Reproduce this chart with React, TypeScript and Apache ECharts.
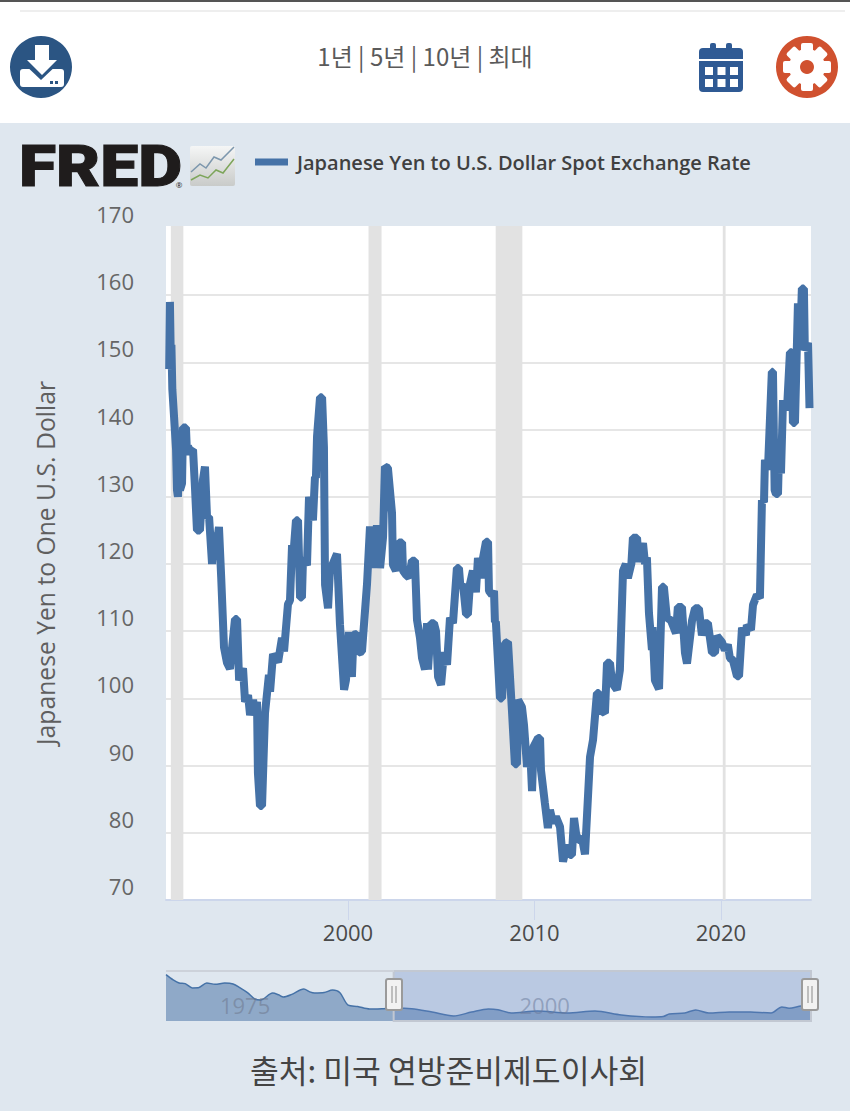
import React, { useEffect, useRef } from "react";
import * as echarts from "echarts";

const seriesName = "Japanese Yen to U.S. Dollar Spot Exchange Rate";
const yAxisTitle = "Japanese Yen to One U.S. Dollar";
const sourceText = "출처: 미국 연방준비제도이사회";
const rangeText = "1년 | 5년 | 10년 | 최대";
const yGridValues = [70, 80, 90, 100, 110, 120, 130, 140, 150, 160];
const yLabelValues = [70, 80, 90, 100, 110, 120, 130, 140, 150, 160, 170];
const xLabelValues = [2000, 2010, 2020];
const navLabelValues = [1975, 2000];
const recessions = [
  [1990.5, 1991.17],
  [2001.1, 2001.8],
  [2007.92, 2009.35],
  [2020.1, 2020.25],
];
const selectedRange = [1990.0, 2024.83];

const yen1990s = [
  [1990.41, 149], [1990.45, 159], [1990.49, 152], [1990.53, 152.6], [1990.58, 146], [1990.67, 142],
  [1990.78, 137], [1990.83, 131], [1990.88, 130], [1990.94, 136], [1990.99, 131], [1991.1, 132],
  [1991.15, 140.3], [1991.31, 140.3], [1991.37, 136.2], [1991.42, 137.5], [1991.53, 136.8], [1991.69, 137],
  [1991.8, 131], [1991.9, 125], [1992.06, 125], [1992.22, 132.5], [1992.33, 134.5], [1992.44, 127],
  [1992.55, 127], [1992.71, 120], [1992.82, 124.7], [1992.92, 122], [1993.08, 125.5], [1993.2, 118],
  [1993.35, 107.6], [1993.51, 105.3], [1993.67, 104.4], [1993.94, 111.8], [1994.05, 111.8], [1994.16, 102.7],
  [1994.37, 104.5], [1994.48, 99.5], [1994.64, 100.5], [1994.75, 97.5], [1994.91, 99.8], [1995.01, 97.5],
  [1995.12, 99.5], [1995.17, 88.9], [1995.28, 84], [1995.39, 84], [1995.55, 97.8], [1995.76, 103.5],
  [1995.82, 101], [1995.98, 106.6], [1996.25, 105.4], [1996.46, 109], [1996.57, 107], [1996.78, 114],
  [1996.89, 114.6], [1997, 122.8], [1997.05, 120.6], [1997.21, 126.5], [1997.32, 126.5], [1997.43, 115],
  [1997.53, 115], [1997.59, 121], [1997.8, 119.8], [1997.91, 130], [1998.12, 126.5], [1998.23, 133],
  [1998.28, 132.8], [1998.34, 139], [1998.5, 144.8], [1998.61, 144.8], [1998.71, 137.4], [1998.77, 116.9],
  [1998.93, 113.4], [1999.03, 119], [1999.41, 121.5], [1999.57, 111], [1999.79, 101.3], [1999.89, 102.7],
];
const yen2000s = [
  [2000.05, 109.9], [2000.21, 103.2], [2000.3, 109.5], [2000.48, 109.6], [2000.54, 106.8], [2000.75, 107],
  [2001.02, 117], [2001.18, 125.6], [2001.29, 119.4], [2001.34, 125.4], [2001.5, 119.6], [2001.55, 125.8],
  [2001.72, 119.4], [2001.88, 124], [2001.98, 134.5], [2002.14, 134.3], [2002.36, 127.6], [2002.41, 119.9],
  [2002.57, 119], [2002.73, 123.2], [2002.9, 123.2], [2002.95, 119], [2003.11, 118.4], [2003.27, 118],
  [2003.43, 120.5], [2003.59, 120.5], [2003.7, 111.7], [2003.86, 109], [2003.97, 106], [2004.13, 104.3],
  [2004.24, 111.2], [2004.29, 104.3], [2004.45, 111.2], [2004.61, 111.2], [2004.72, 110], [2004.83, 103.2],
  [2004.99, 102], [2005.15, 106.9], [2005.31, 105], [2005.47, 112], [2005.63, 111.2], [2005.84, 119.4],
  [2005.95, 119.4], [2006.03, 116.6], [2006.17, 117], [2006.33, 112.5], [2006.43, 112.5], [2006.54, 117],
  [2006.7, 119], [2006.86, 115.8], [2006.97, 120.9], [2007.13, 117.9], [2007.24, 120.9], [2007.4, 123.3],
  [2007.51, 123.3], [2007.56, 116], [2007.72, 115.4], [2007.83, 116], [2007.88, 111.4], [2007.93, 111.4],
  [2008.15, 100], [2008.26, 100], [2008.42, 108.2], [2008.58, 108.4], [2008.79, 98.3], [2008.95, 90.2],
  [2009.06, 90.2], [2009.12, 99.8], [2009.33, 98.7], [2009.44, 96], [2009.6, 89.8], [2009.76, 92.8],
  [2009.87, 86.2], [2009.95, 92.8],
];
const yen2010s = [
  [2010.19, 94.1], [2010.3, 94.1], [2010.35, 89.3], [2010.56, 84.4], [2010.72, 80.7], [2010.83, 83.4],
  [2010.99, 81.5], [2011.15, 82.4], [2011.37, 80.9], [2011.53, 75.7], [2011.74, 78.2], [2011.9, 76.7],
  [2012.01, 76.7], [2012.12, 82.2], [2012.28, 78.9], [2012.55, 79.2], [2012.71, 76.8], [2012.98, 91.3],
  [2013.14, 93.8], [2013.35, 100.8], [2013.46, 100.8], [2013.51, 98.3], [2013.78, 97.8], [2013.89, 105.3],
  [2014.05, 105.3], [2014.16, 102.3], [2014.42, 101.3], [2014.58, 104.2], [2014.75, 119], [2014.9, 120],
  [2015.01, 117.9], [2015.2, 120.1], [2015.28, 123.9], [2015.5, 123.9], [2015.6, 120.3], [2015.82, 123.1],
  [2015.93, 120], [2016.03, 121], [2016.14, 112.7], [2016.3, 107.2], [2016.33, 110.6], [2016.46, 102.7],
  [2016.68, 101.4], [2016.84, 116.6], [2016.94, 116.6], [2017.1, 112], [2017.32, 111.6], [2017.59, 109.7],
  [2017.69, 113.6], [2017.91, 113.6], [2018.07, 106.8], [2018.18, 105.2], [2018.45, 111.6], [2018.61, 113.4],
  [2018.82, 113.4], [2018.98, 109.4], [2019.14, 111.2], [2019.3, 111.2], [2019.52, 106.8], [2019.68, 106.8],
  [2019.79, 109.3],
];
const yen2020s = [
  [2020.05, 108.4], [2020.21, 107.2], [2020.37, 108], [2020.48, 106], [2020.64, 105.7], [2020.86, 103.3],
  [2020.97, 103.3], [2021.13, 110.5], [2021.34, 109.4], [2021.39, 110.9], [2021.61, 110.2], [2021.72, 113.9],
  [2021.93, 115.4], [2022.09, 114.9], [2022.2, 129.5], [2022.31, 129.2], [2022.36, 135.5], [2022.52, 134],
  [2022.73, 148.6], [2022.79, 148.6], [2022.88, 131], [2022.95, 130.4], [2023.06, 130.4], [2023.11, 136],
  [2023.22, 133.5], [2023.33, 144.4], [2023.54, 142.9], [2023.7, 151.5], [2023.81, 151.5], [2023.86, 141],
  [2023.97, 141], [2024.13, 158.8], [2024.24, 152], [2024.34, 161], [2024.45, 161], [2024.5, 151.8],
  [2024.67, 152.9], [2024.75, 143.2],
];
const yenFull = [...yen1990s, ...yen2000s, ...yen2010s, ...yen2020s];

const navigatorYears = [
  1971, 1971.6, 1972.1, 1972.6, 1973.2, 1973.7, 1974.4, 1975.1, 1975.9, 1976.6, 1977.2, 1977.8, 1978.4, 1978.9, 1979.9, 1980.4,
  1980.8, 1981.5, 1982.5, 1983, 1983.4, 1984.2, 1984.9, 1985.5, 1986.2, 1987, 1988, 1989, 1990, 1991.5, 1993.2, 1995,
  1996.5, 1997.9, 1998.7, 1999.8, 2002, 2004.5, 2006.8, 2009, 2011.5, 2012.5, 2013, 2014.3, 2015.2, 2016.3, 2018, 2019.8,
  2021.5, 2022.4, 2023, 2024, 2024.8,
];
const navigatorValues = [
  360, 325, 304, 300, 271, 272, 304, 296, 304, 298, 271, 240, 197, 190, 237, 225,
  210, 228, 264, 245, 237, 240, 257, 240, 156, 147, 130, 132, 136, 132, 109, 83,
  109, 130, 125, 103, 116, 103, 116, 90, 76, 79, 96, 103, 123, 103, 110, 109,
  103, 143, 135, 150, 155,
];

const BG = "#dfe7ef";
const openSans = "'Open Sans', 'Noto Sans', sans-serif";
const korean = "'Noto Sans CJK KR', 'Noto Sans', sans-serif";

function chromeElements(): any[] {
  const gearTeeth = [0, 1, 2, 3, 4, 5, 6, 7].map((i) => ({
    type: "rect",
    x: 807,
    y: 67,
    originX: 0,
    originY: 0,
    rotation: (i * Math.PI) / 4,
    shape: { x: -6, y: -24, width: 12, height: 10, r: 2 },
    style: { fill: "#ffffff" },
  }));
  const calCols = [705, 717.5, 730];
  const calRows = [67, 79];
  const calCells = calRows.flatMap((y) =>
    calCols.map((x) => ({ type: "rect", shape: { x, y, width: 8, height: 8 }, style: { fill: "#ffffff" } }))
  );
  const handle = (cx: number) => [
    { type: "rect", z: 60, shape: { x: cx - 8, y: 979, width: 16, height: 31, r: 2 }, style: { fill: "#f2f2f2", stroke: "#9a9a9a", lineWidth: 2 } },
    { type: "line", z: 61, shape: { x1: cx - 2, y1: 986, x2: cx - 2, y2: 1003 }, style: { stroke: "#8a8a8a", lineWidth: 1 } },
    { type: "line", z: 61, shape: { x1: cx + 2, y1: 986, x2: cx + 2, y2: 1003 }, style: { stroke: "#8a8a8a", lineWidth: 1 } },
  ];
  return [
    { type: "rect", z: -1, shape: { x: 0, y: 0, width: 850, height: 123 }, style: { fill: "#ffffff" } },
    { type: "rect", shape: { x: 0, y: 0, width: 850, height: 2 }, style: { fill: "#555555" } },
    { type: "rect", shape: { x: 20, y: 10, width: 825, height: 2 }, style: { fill: "#eeeeee" } },
    // download icon
    { type: "circle", shape: { cx: 41, cy: 67, r: 31 }, style: { fill: "#2b5583" } },
    { type: "rect", shape: { x: 20, y: 69, width: 44, height: 18, r: 3 }, style: { fill: "#ffffff" } },
    { type: "polygon", shape: { points: [[31, 62], [22, 62], [41, 80], [60, 62], [51, 62]] }, style: { fill: "#2b5583" } },
    { type: "polygon", shape: { points: [[35, 45], [49, 45], [49, 60], [57, 60], [42, 75], [27, 60], [35, 60]] }, style: { fill: "#ffffff" } },
    { type: "rect", shape: { x: 50, y: 81, width: 3, height: 3 }, style: { fill: "#2b5583" } },
    { type: "rect", shape: { x: 55, y: 81, width: 3, height: 3 }, style: { fill: "#2b5583" } },
    // range selector text
    { type: "text", x: 425, y: 55, style: { text: rangeText, font: `24px ${korean}`, fill: "#5a5a5a", align: "center", verticalAlign: "middle" } },
    // calendar icon
    { type: "rect", shape: { x: 699, y: 48, width: 44, height: 44, r: 4 }, style: { fill: "#2f5a94" } },
    { type: "rect", shape: { x: 710, y: 43, width: 6, height: 10, r: 2 }, style: { fill: "#2f5a94" } },
    { type: "rect", shape: { x: 726, y: 43, width: 6, height: 10, r: 2 }, style: { fill: "#2f5a94" } },
    { type: "rect", shape: { x: 699, y: 59, width: 44, height: 2 }, style: { fill: "#ffffff" } },
    ...calCells,
    // gear icon
    { type: "circle", shape: { cx: 807, cy: 67, r: 31 }, style: { fill: "#d0512f" } },
    { type: "circle", shape: { cx: 807, cy: 67, r: 18 }, style: { fill: "#ffffff" } },
    ...gearTeeth,
    { type: "circle", z: 3, shape: { cx: 807, cy: 67, r: 7 }, style: { fill: "#d0512f" } },
    // FRED logo
    { type: "text", x: 19, y: 166, scaleX: 1.17, originX: 0, originY: 0, style: { text: "FRED", font: `900 58px Roboto, sans-serif`, fill: "#1f1c1c", stroke: "#1f1c1c", lineWidth: 1, align: "left", verticalAlign: "middle" } },
    { type: "text", x: 179, y: 184, style: { text: "®", font: `8px ${openSans}`, fill: "#1f1c1c", align: "center", verticalAlign: "middle" } },
    {
      type: "rect",
      shape: { x: 190, y: 146, width: 45, height: 40, r: 2 },
      style: { fill: new echarts.graphic.LinearGradient(0, 0, 0, 1, [{ offset: 0, color: "#f5f6f6" }, { offset: 1, color: "#c9cbc9" }]) },
    },
    { type: "polyline", shape: { points: [[191, 172], [200, 164], [206, 168], [214, 157], [221, 160], [234, 147]] }, style: { stroke: "#7d97ad", lineWidth: 1.5, fill: "none" } },
    { type: "polyline", shape: { points: [[191, 180], [200, 175], [208, 178], [216, 170], [223, 173], [234, 159]] }, style: { stroke: "#7da55a", lineWidth: 1.5, fill: "none" } },
    // navigator outline and handles
    { type: "line", z: 40, shape: { x1: 166, y1: 971, x2: 394, y2: 971 }, style: { stroke: "#cdd2da", lineWidth: 2 } },
    ...handle(394),
    ...handle(810),
    // source
    { type: "text", x: 448.5, y: 1069, style: { text: sourceText, font: `31.3px ${korean}`, fill: "#444444", align: "center", verticalAlign: "middle" } },
  ];
}

export default function App() {
  const ref = useRef<HTMLDivElement>(null);
  useEffect(() => {
    document.body.style.margin = "0";
    const chart = echarts.init(ref.current!, undefined, { renderer: "svg" });
    chart.setOption({
      animation: false,
      backgroundColor: BG,
      textStyle: { fontFamily: openSans },
      legend: {
        data: [seriesName],
        left: 250,
        top: 147,
        icon: "rect",
        itemWidth: 33,
        itemHeight: 7,
        selectedMode: false,
        textStyle: { fontFamily: openSans, fontSize: 20, fontWeight: 600, color: "#404040", padding: [0, 0, 0, 4] },
      },
      grid: [
        { left: 166, width: 645, top: 226, height: 674, show: true, backgroundColor: "#ffffff", borderWidth: 0 },
        { left: 166, width: 645, top: 971, height: 50, show: false },
      ],
      xAxis: [
        {
          type: "value",
          gridIndex: 0,
          min: 1990.24,
          max: 2024.83,
          splitLine: { show: false },
          axisLine: { lineStyle: { color: "#ccd6eb", width: 2 } },
          axisTick: { length: 20, customValues: xLabelValues, lineStyle: { color: "#ccd6eb", width: 1 } },
          axisLabel: { customValues: xLabelValues, margin: 21, fontSize: 22, fontFamily: openSans, color: "#4a4a4a", formatter: (v: number) => String(v) },
        },
        {
          type: "value",
          gridIndex: 1,
          min: 1971,
          max: 2024.83,
          z: 5,
          splitLine: { show: false },
          axisLine: { show: false },
          axisTick: { show: false },
          axisLabel: {
            customValues: navLabelValues,
            inside: true,
            align: "left",
            margin: 5,
            padding: [0, 0, 0, 6],
            fontSize: 22,
            fontFamily: openSans,
            color: "rgba(110,120,140,0.55)",
            formatter: (v: number) => String(v),
          },
        },
      ],
      yAxis: [
        {
          type: "value",
          gridIndex: 0,
          min: 70,
          max: 170.3,
          name: yAxisTitle,
          nameLocation: "middle",
          nameGap: 108,
          nameTextStyle: { fontFamily: openSans, fontSize: 24.7, color: "#5f5f5f" },
          axisLine: { show: false },
          axisTick: { show: false, customValues: yGridValues },
          splitLine: { lineStyle: { color: "#e6e6e6", width: 2 } },
          axisLabel: {
            customValues: yLabelValues,
            margin: 32,
            fontSize: 22,
            fontFamily: openSans,
            color: "#666666",
            verticalAlign: "bottom",
            padding: [0, 0, 3, 0],
            formatter: (v: number) => String(v),
          },
        },
        { type: "value", gridIndex: 1, min: 49, max: 385, show: false, splitLine: { show: false } },
      ],
      series: [
        {
          name: seriesName,
          type: "line",
          xAxisIndex: 0,
          yAxisIndex: 0,
          data: yenFull,
          showSymbol: false,
          symbol: "none",
          clip: true,
          lineStyle: { color: "#4572a7", width: 8, join: "bevel", cap: "butt" },
          itemStyle: { color: "#4572a7" },
          markArea: {
            silent: true,
            itemStyle: { color: "#e2e2e2" },
            data: recessions.map(([a, b]) => [{ xAxis: a, yAxis: 70 }, { xAxis: b, yAxis: 170.3 }]),
          },
        },
        {
          name: "navigator",
          type: "line",
          xAxisIndex: 1,
          yAxisIndex: 1,
          data: navigatorYears.map((y, i) => [y, navigatorValues[i]]),
          showSymbol: false,
          symbol: "none",
          smooth: 0.3,
          lineStyle: { color: "#4572a7", width: 1.5 },
          areaStyle: { color: "#8fa9c8", opacity: 1 },
          markArea: {
            silent: true,
            z: 10,
            itemStyle: { color: "rgba(102,133,194,0.3)", borderColor: "#c2c8d2", borderWidth: 2 },
            data: [[{ xAxis: selectedRange[0], yAxis: 49 }, { xAxis: selectedRange[1], yAxis: 385 }]],
          },
        },
      ],
      graphic: { elements: chromeElements() },
    });
    return () => chart.dispose();
  }, []);
  return <div ref={ref} style={{ position: "absolute", left: 0, top: 0, width: 850, height: 1111 }} />;
}
